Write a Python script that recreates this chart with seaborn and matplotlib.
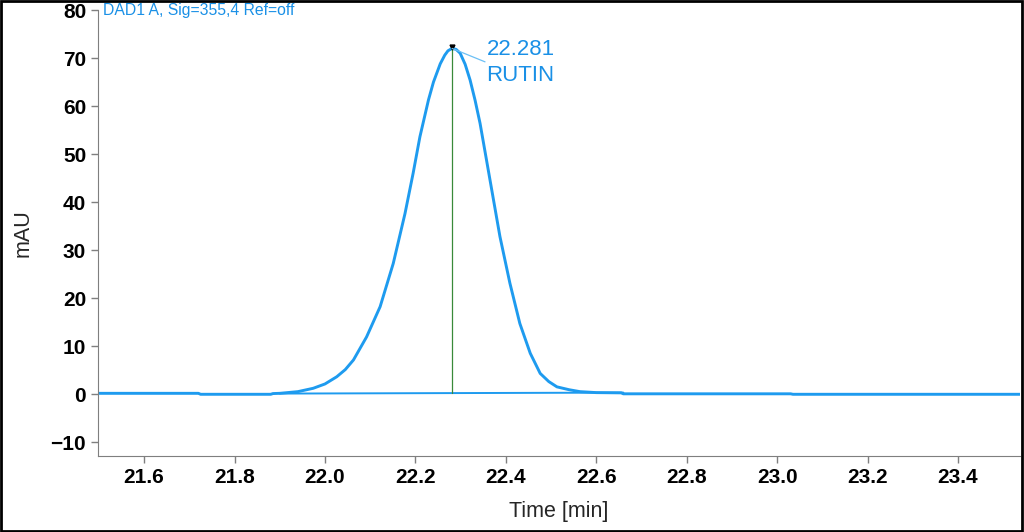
import matplotlib
matplotlib.use("Agg")
import matplotlib.pyplot as plt
import seaborn as sns
import pandas as pd
from matplotlib.patches import Rectangle

# signal (min, mAU)
time_min = [21.50, 21.72, 21.725, 21.88, 21.885, 21.900, 21.940, 21.974, 22.000,
            22.026, 22.045, 22.063, 22.092, 22.122, 22.151, 22.177, 22.195, 22.210,
            22.229, 22.240, 22.255, 22.265, 22.272, 22.281, 22.290, 22.299,
            22.310, 22.321, 22.332, 22.343, 22.365,
            22.387, 22.409, 22.431, 22.454, 22.476, 22.495, 22.513, 22.540,
            22.564, 22.600, 22.655, 22.66, 23.03, 23.035, 23.54]
signal_mau = [0.15, 0.15, -0.05, -0.05, 0.1, 0.15, 0.5, 1.2, 2.1,
              3.6, 5.1, 7.1, 11.9, 18.2, 27.2, 37.6, 46.0, 53.6,
              61.3, 65.0, 68.8, 70.6, 71.5, 72.0, 71.8, 71.0,
              68.7, 65.4, 61.2, 56.4, 44.6,
              32.8, 23.1, 14.7, 8.5, 4.3, 2.6, 1.5, 0.9,
              0.5, 0.3, 0.25, 0.05, 0.05, -0.05, -0.05]

# integration baseline and peak label
base_time = [21.90, 22.66]
base_mau = [0.1, 0.3]
peak_rt = 22.281
peak_height = 72.0
peak_name = "RUTIN"

df = pd.DataFrame({"time": time_min, "mau": signal_mau})
blue = "#1E9BEF"
gray = "#7f7f7f"

sns.set_style("ticks")
plt.rcParams["font.family"] = ["Liberation Sans", "DejaVu Sans"]

fig = plt.figure(figsize=(10.24, 5.32), dpi=100)
ax = fig.add_axes([0.0957, 0.1429, 0.9003, 0.8383])

sns.lineplot(data=df, x="time", y="mau", ax=ax, color=blue, lw=2.1,
             estimator=None, sort=False)
ax.plot(base_time, base_mau, color=blue, lw=1.4)
ax.plot([peak_rt, peak_rt], [0.2, peak_height], color="#3a8a3a", lw=0.9)
ax.plot([peak_rt], [peak_height + 0.3], marker="v", color="black", ms=3.5)
ax.plot([peak_rt, 22.354], [peak_height, 69.2], color="#6cc0f5", lw=0.9)
ax.text(22.357, 71.7, f"{peak_rt:.3f}", color="#1a90e6", fontsize=16, va="center")
ax.text(22.357, 66.3, peak_name, color="#1a90e6", fontsize=16, va="center")
ax.text(21.51, 80.0, "DAD1 A, Sig=355,4 Ref=off", color="#1a90e6", fontsize=11.3,
        va="center", ha="left")

ax.set_xlim(21.498, 23.537)
ax.set_ylim(-12.9, 80)
ax.set_xticks([21.6, 21.8, 22.0, 22.2, 22.4, 22.6, 22.8, 23.0, 23.2, 23.4])
ax.set_xticklabels([f"{t:.1f}" for t in ax.get_xticks()])
ax.set_yticks(range(-10, 81, 10))
for lab in ax.get_xticklabels() + ax.get_yticklabels():
    lab.set_fontweight("bold")
    lab.set_fontsize(15)
ax.tick_params(axis="both", colors=gray, labelcolor="black", length=5, width=1)
ax.tick_params(axis="x", pad=4)
ax.set_xlabel("Time [min]", fontsize=15.5, labelpad=10)
ax.set_ylabel("mAU", fontsize=15.5, labelpad=12)

sns.despine(ax=ax, top=True, right=True)
ax.spines["left"].set_color(gray)
ax.spines["bottom"].set_color(gray)

fig.patches.append(Rectangle((0.001, 0.002), 0.997, 0.996, transform=fig.transFigure,
                             fill=False, edgecolor="black", lw=2))

fig.savefig("out.png", dpi=100)
